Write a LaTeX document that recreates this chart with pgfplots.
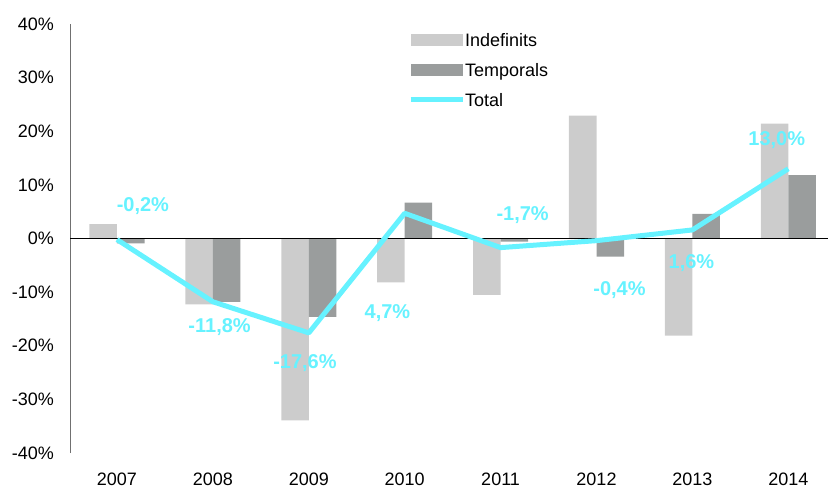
\documentclass[border=0pt]{standalone}
\usepackage{fontspec}
\setmainfont{Liberation Sans}
\usepackage{pgfplots}
\pgfplotsset{compat=1.18}
\definecolor{indef}{HTML}{CCCCCC}
\definecolor{temp}{HTML}{9A9D9D}
\definecolor{total}{HTML}{66F2FF}
\definecolor{axisgray}{HTML}{707070}

\begin{document}
\begin{tikzpicture}
\begin{axis}[
  scale only axis,
  width=758bp, height=429bp,
  xmin=-0.49, xmax=7.414,
  ymin=-40, ymax=40,
  clip=false,
  axis lines*=left,
  x axis line style={draw=none},
  y axis line style={axisgray, line width=1bp},
  major tick length=0pt,
  ytick={-40,-30,-20,-10,0,10,20,30,40},
  yticklabels={-40\%,-30\%,-20\%,-10\%,0\%,10\%,20\%,30\%,40\%},
  xtick={0,1,2,3,4,5,6,7},
  xticklabels={2007,2008,2009,2010,2011,2012,2013,2014},
  tick label style={font=\fontsize{18bp}{22bp}\selectfont, inner sep=0pt},
  yticklabel style={anchor=east, xshift=-16bp},
  xticklabel style={anchor=north, yshift=-20bp},
  legend style={at={(rel axis cs:0.446,0.978)}, anchor=north west,
    draw=none, fill=none, inner sep=0pt, outer sep=0pt,
    font=\fontsize{18bp}{22bp}\selectfont,
    nodes={inner sep=0pt, text height=13bp, text depth=0bp},
    row sep=17bp,
    /tikz/every even column/.append style={column sep=5bp}},
  legend cell align=left,
]
% Indefinits
\addplot[ybar, bar width=0.287, bar shift=-0.1435, fill=indef, draw=none,
  legend image code/.code={\fill[indef] (0bp,-6bp) rectangle (52bp,6bp);}]
  coordinates {(0,2.7) (1,-12.3) (2,-33.9) (3,-8.2) (4,-10.5) (5,22.9) (6,-18.1) (7,21.4)};
\addlegendentry{Indefinits}
% Temporals
\addplot[ybar, bar width=0.287, bar shift=0.1435, fill=temp, draw=none,
  legend image code/.code={\fill[temp] (0bp,-6bp) rectangle (52bp,6bp);}]
  coordinates {(0,-0.9) (1,-11.8) (2,-14.6) (3,6.7) (4,-0.6) (5,-3.4) (6,4.6) (7,11.8)};
\addlegendentry{Temporals}
% zero line
\addplot[black, line width=1bp, forget plot] coordinates {(-0.49,0) (7.414,0)};
% Total
\addplot[total, line width=5bp, line join=round, mark=none,
  legend image code/.code={\draw[total, line width=5bp] (0bp,0bp) -- (52bp,0bp);}]
  coordinates {(0,-0.2) (1,-11.8) (2,-17.6) (3,4.7) (4,-1.7) (5,-0.4) (6,1.6) (7,13.0)};
\addlegendentry{Total}

\tikzset{lbl/.style={text=total, font=\bfseries\fontsize{20bp}{24bp}\selectfont, inner sep=0pt}}
\node[lbl] at (axis cs:0.27,6.1) {-0,2\%};
\node[lbl] at (axis cs:1.07,-16.6) {-11,8\%};
\node[lbl] at (axis cs:1.96,-23.2) {-17,6\%};
\node[lbl] at (axis cs:2.82,-13.9) {4,7\%};
\node[lbl] at (axis cs:4.23,4.4) {-1,7\%};
\node[lbl] at (axis cs:5.24,-9.6) {-0,4\%};
\node[lbl] at (axis cs:5.99,-4.6) {1,6\%};
\node[lbl] at (axis cs:6.88,18.4) {13,0\%};
\end{axis}
\pgfresetboundingbox
\path[use as bounding box] (current axis.south west) ++(-70bp,-36bp) rectangle ++(828bp,489bp);
\end{tikzpicture}
\end{document}
